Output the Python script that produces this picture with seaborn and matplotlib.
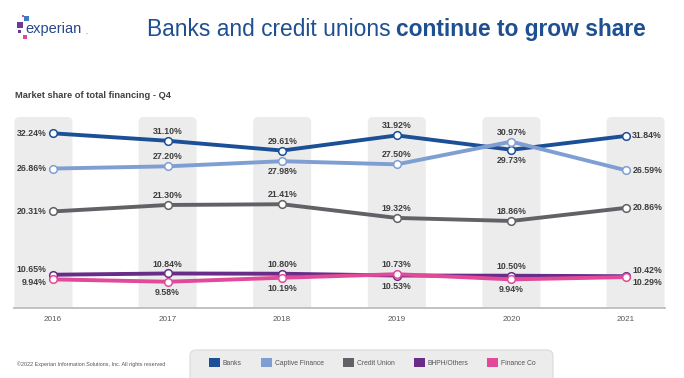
import numpy as np
import pandas as pd
import matplotlib
matplotlib.use("Agg")
import matplotlib.pyplot as plt
import seaborn as sns
from matplotlib.patches import FancyBboxPatch, Patch, Rectangle

# Data
years = [2016, 2017, 2018, 2019, 2020, 2021]
series_names = ["Banks", "Captive Finance", "Credit Union", "BHPH/Others", "Finance Co"]
banks = [32.24, 31.10, 29.61, 31.92, 29.73, 31.84]
captive = [26.86, 27.20, 27.98, 27.50, 30.97, 26.59]
credit_union = [20.31, 21.30, 21.41, 19.32, 18.86, 20.86]
bhph = [10.65, 10.84, 10.80, 10.53, 10.50, 10.42]
finance_co = [9.94, 9.58, 10.19, 10.73, 9.94, 10.29]

colors = ["#1b4f96", "#7f9fd2", "#616166", "#692c87", "#e04a99"]

df = pd.DataFrame({
    "year": years * 5,
    "share": banks + captive + credit_union + bhph + finance_co,
    "series": [s for s in series_names for _ in years],
})

# where each value label goes: l=left, a=above, b=below, r=right
label_pos = {
    "Banks": ["l", "a", "a", "a", "b", "r"],
    "Captive Finance": ["l", "a", "b", "a", "a", "r"],
    "Credit Union": ["l", "a", "a", "a", "a", "r"],
    "BHPH/Others": ["l", "a", "a", "b", "a", "r"],
    "Finance Co": ["l", "b", "b", "a", "b", "r"],
}
# small vertical nudges for the crowded side labels
side_nudge = {("BHPH/Others", 0): 3.5, ("Finance Co", 0): -2.5,
              ("BHPH/Others", 5): 3.8, ("Finance Co", 5): -3.8}

sns.set_style("white")
plt.rcParams["font.family"] = ["Liberation Sans", "DejaVu Sans"]

W, H = 684, 378
fig = plt.figure(figsize=(W / 100, H / 100), dpi=100)
ax = fig.add_axes([14 / W, 1 - 308 / H, (665 - 14) / W, (308 - 117) / H])
ax.set_xlim(2015.66, 2021.34)
ax.set_ylim(5.57, 34.73)

# grey column bands behind each year
band_w = 58 / 114.6
for i, yr in enumerate(years):
    cx = yr
    if i == 0:
        cx -= 0.083
    elif i == len(years) - 1:
        cx += 0.083
    band = FancyBboxPatch((cx - band_w / 2, 0), band_w, 34.73,
                          boxstyle="round,pad=0,rounding_size=0.045",
                          mutation_aspect=17.5, facecolor="#ececec",
                          edgecolor="none", zorder=0)
    ax.add_patch(band)

for name, color in zip(series_names, colors):
    sub = df[df["series"] == name]
    sns.lineplot(data=sub, x="year", y="share", ax=ax, color=color, lw=2.8,
                 marker="o", markersize=5.5, markerfacecolor="white",
                 markeredgecolor=color, markeredgewidth=1.1, zorder=3)
    for i, (x, v) in enumerate(zip(sub["year"], sub["share"])):
        p = label_pos[name][i]
        dy = side_nudge.get((name, i), 0)
        if p == "l":
            off, ha, va = (-4.5, dy), "right", "center"
        elif p == "r":
            off, ha, va = (4.5, dy), "left", "center"
        elif p == "a":
            off, ha, va = (0, 6.8), "center", "center"
        else:
            off, ha, va = (0, -7.6), "center", "center"
        ax.annotate(f"{v:.2f}%", (x, v), xytext=off, textcoords="offset points",
                    ha=ha, va=va, fontsize=6.3, fontweight="bold", color="#3d3d3d", zorder=4)

ax.set_xticks(years)
ax.set_xticklabels([str(y) for y in years], fontsize=5.9, color="#595959")
ax.tick_params(axis="x", length=0, pad=6)
ax.set_yticks([])
ax.set_xlabel("")
ax.set_ylabel("")
for s in ["top", "left", "right"]:
    ax.spines[s].set_visible(False)
ax.spines["bottom"].set_color("#bdbdbd")
ax.spines["bottom"].set_linewidth(1.3)
if ax.get_legend():
    ax.get_legend().remove()

# title
fig.text(147 / W, 1 - 36 / H, "Banks and credit unions", fontsize=16.4,
         color="#1d4f91", ha="left", va="baseline")
fig.text(396 / W, 1 - 36 / H, "continue to grow share", fontsize=16.4,
         color="#1d4f91", fontweight="bold", ha="left", va="baseline")
fig.text(15 / W, 1 - 96 / H, "Market share of total financing - Q4", fontsize=6.7,
         fontweight="bold", color="#404040", ha="left", va="center")

# logo
logo_sq = [(24.3, 16, 5, "#3a7cc4"), (17, 22, 5.5, "#6a3b96"), (18, 30, 3, "#6a3b96"),
           (23, 35, 3.5, "#e0479a"), (22, 14.5, 2, "#e0479a")]
for lx, ly, sz, c in logo_sq:
    fig.patches.append(Rectangle((lx / W, 1 - (ly + sz) / H), sz / W, sz / H,
                                 transform=fig.transFigure, facecolor=c, edgecolor="none"))
fig.text(25 / W, 1 - 29 / H, "experian", fontsize=10.5, color="#26478d",
         ha="left", va="center")
fig.text(85 / W, 1 - 32 / H, ".", fontsize=5, color="#26478d", ha="left", va="center")

# footer
fig.text(17 / W, 1 - 364 / H, "\u00a92022 Experian Information Solutions, Inc. All rights reserved",
         fontsize=3.9, color="#555555", ha="left", va="center")

# legend box
box = FancyBboxPatch((190 / W, -0.05), (553 - 190) / W, (378 - 350) / H + 0.05,
                     boxstyle="round,pad=0,rounding_size=0.009", mutation_aspect=1.81,
                     transform=fig.transFigure, facecolor="#ececec", edgecolor="#dadada", lw=0.8)
fig.patches.append(box)
handles = [Patch(facecolor=c, edgecolor="none", label=n) for n, c in zip(series_names, colors)]
fig.legend(handles=handles, loc="center", bbox_to_anchor=(372.5 / W, 1 - 362.5 / H),
           ncol=5, frameon=False, fontsize=4.9, handlelength=1.6, handleheight=1.6,
           handletextpad=0.45, columnspacing=2.8, labelcolor="#555555")

fig.savefig("out.png", dpi=100)
